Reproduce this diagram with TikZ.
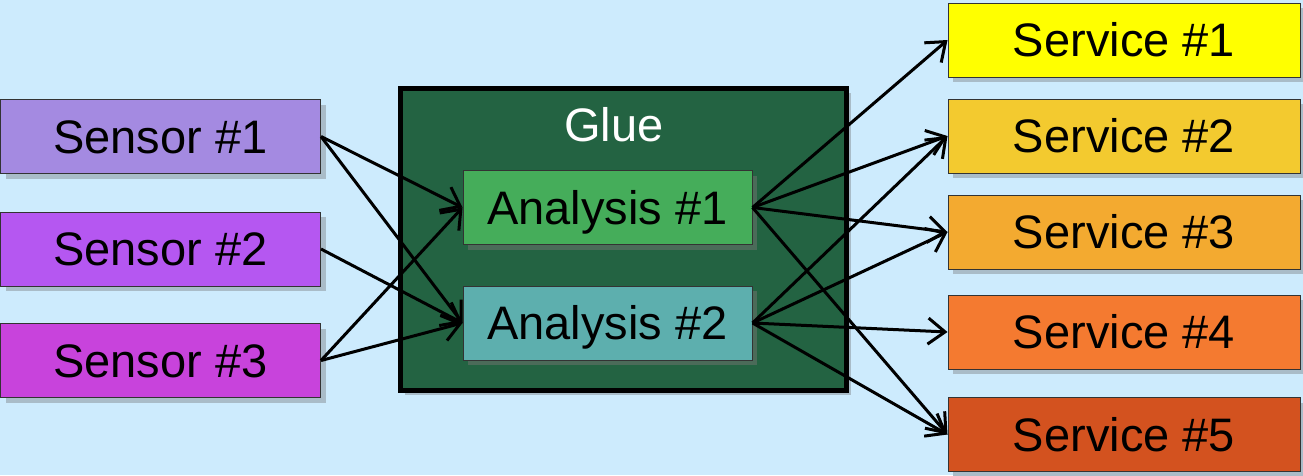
\documentclass[tikz,border=0pt]{standalone}
\usepackage{fontspec}
\setmainfont{Liberation Sans}
\usetikzlibrary{arrows.meta,shadows}
\definecolor{bgc}{HTML}{CDEBFD}
\definecolor{boxshadow}{HTML}{A9BCC8}
\definecolor{innershadow}{HTML}{4B6B59}
\definecolor{gluefill}{HTML}{236342}
\definecolor{senA}{HTML}{A48AE1}
\definecolor{senB}{HTML}{B557F1}
\definecolor{senC}{HTML}{C843DC}
\definecolor{anaA}{HTML}{45AD5A}
\definecolor{anaB}{HTML}{5DAFAE}
\definecolor{srvA}{HTML}{FFFF00}
\definecolor{srvB}{HTML}{F3CA2F}
\definecolor{srvC}{HTML}{F3AA30}
\definecolor{srvD}{HTML}{F47A30}
\definecolor{srvE}{HTML}{D3521F}
\tikzset{
  box/.style={draw=black!80, line width=1pt, rectangle, inner sep=0pt,
    minimum height=74pt, font=\fontsize{47}{56}\selectfont,
    text height=33.7pt, text depth=0pt,
    drop shadow={shadow xshift=5pt, shadow yshift=-5pt, fill=boxshadow, opacity=1}},
  sensorbox/.style={box, minimum width=320pt},
  servicebox/.style={box, minimum width=352pt},
  analysisbox/.style={box, minimum width=289pt,
    drop shadow={shadow xshift=5pt, shadow yshift=-5pt, fill=innershadow, opacity=1}},
  gluebox/.style={draw=black, line width=4.5pt, rectangle, fill=gluefill,
    minimum width=446pt, minimum height=302pt,
    drop shadow={shadow xshift=4pt, shadow yshift=-4pt, fill=boxshadow, opacity=1}},
  flow/.style={line width=3pt, -{Straight Barb[length=17pt, width=26pt, line width=3pt]}},
}
\begin{document}
\begin{tikzpicture}[x=1pt, y=-1pt]
  \fill[bgc] (0,0) rectangle (1303,475);
  \useasboundingbox (0,0) rectangle (1303,475);

  % central processing block
  \node[gluebox] (glue) at (623.5,239.5) {};
  \node[text=white, font=\fontsize{47}{56}\selectfont, text height=33.7pt, text depth=0pt]
    (gluelabel) at (614,125) {Glue};
  \node[analysisbox, fill=anaA] (a1) at (607.5,207.5) {Analysis \#1};
  \node[analysisbox, fill=anaB] (a2) at (607.5,323) {Analysis \#2};

  % inputs
  \node[sensorbox, fill=senA] (s1) at (160.5,136.5) {Sensor \#1};
  \node[sensorbox, fill=senB] (s2) at (160.5,249) {Sensor \#2};
  \node[sensorbox, fill=senC] (s3) at (160.5,360.5) {Sensor \#3};

  % outputs
  \node[servicebox, fill=srvA] (v1) at (1124,40) {Service \#1};
  \node[servicebox, fill=srvB] (v2) at (1124,136) {Service \#2};
  \node[servicebox, fill=srvC] (v3) at (1124,232) {Service \#3};
  \node[servicebox, fill=srvD] (v4) at (1124,332) {Service \#4};
  \node[servicebox, fill=srvE] (v5) at (1124,434.5) {Service \#5};

  % sensor feeds
  \draw[flow] (s1.east) -- (a1.west);
  \draw[flow] (s1.east) -- (a2.west);
  \draw[flow] (s2.east) -- (a2.west);
  \draw[flow] (s3.east) -- (a1.west);
  \draw[flow] (s3.east) -- (a2.west);

  % analysis outputs
  \draw[flow] (a1.east) -- (v1.west);
  \draw[flow] (a1.east) -- (v2.west);
  \draw[flow] (a1.east) -- (v3.west);
  \draw[flow] (a1.east) -- (v5.west);
  \draw[flow] (a2.east) -- (v2.west);
  \draw[flow] (a2.east) -- (v3.west);
  \draw[flow] (a2.east) -- (v4.west);
  \draw[flow] (a2.east) -- (v5.west);
\end{tikzpicture}
\end{document}
